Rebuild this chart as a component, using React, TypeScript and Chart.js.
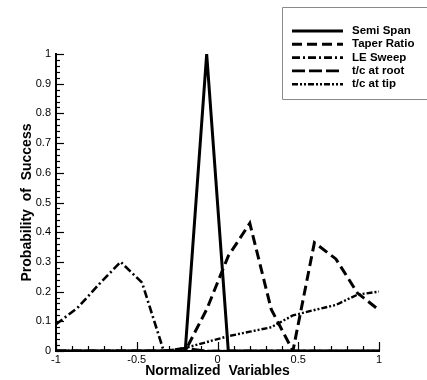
import React, { useEffect, useRef } from "react";
import { Chart, registerables } from "chart.js";

Chart.register(...registerables);

const xValues = [-1, -0.867, -0.733, -0.6, -0.467, -0.333, -0.2, -0.067, 0.067, 0.2, 0.333, 0.467, 0.6, 0.733, 0.867, 1];
const semiSpan = [0, 0, 0, 0, 0, 0, 0, 1, 0, 0, 0, 0, 0, 0, 0, 0];
const taperRatio = [0, 0, 0, 0, 0, 0, 0, 0.14, 0.32, 0.43, 0.14, 0, 0.365, 0.31, 0.195, 0.138];
const leSweep = [0.09, 0.145, 0.225, 0.3, 0.23, 0, 0, 0, 0, 0, 0, 0, 0, 0, 0, 0];
const tcRoot = [0, 0, 0, 0, 0, 0, 0.01, 0, 0, 0, 0, 0, 0, 0, 0, 0];
const tcTip = [0, 0, 0, 0, 0, 0, 0.01, 0.03, 0.05, 0.065, 0.08, 0.12, 0.138, 0.155, 0.19, 0.2];

const seriesLabels = ["Semi Span", "Taper Ratio", "LE Sweep", "t/c at root", "t/c at tip"];
const seriesValues = [semiSpan, taperRatio, leSweep, tcRoot, tcTip];
const seriesDashes: number[][] = [[], [10, 5], [8, 3, 2, 3], [13, 4], [6, 2, 2, 2, 2, 2]];
const seriesWidths = [3, 3, 2.6, 2.6, 2.4];

const FONT = "'Liberation Sans', Arial, Helvetica, sans-serif";

const fmt = (v: any) => String(Number(Number(v).toFixed(2)));

const tickPlugin = {
  id: "innerTicks",
  afterDraw(chart: any) {
    const { ctx, chartArea, scales } = chart;
    const xs = scales.x;
    const ys = scales.y;
    ctx.save();
    ctx.strokeStyle = "#000";
    ctx.lineWidth = 1.2;
    ctx.setLineDash([]);
    for (let i = 0; i <= 50; i++) {
      const v = i * 0.02;
      const py = Math.round(ys.getPixelForValue(v)) + 0.5;
      const len = i % 5 === 0 ? 8 : 4;
      ctx.beginPath();
      ctx.moveTo(chartArea.left, py);
      ctx.lineTo(chartArea.left + len, py);
      ctx.stroke();
    }
    for (let i = 0; i <= 20; i++) {
      const v = -1 + i * 0.1;
      const px = Math.round(xs.getPixelForValue(v)) + 0.5;
      const len = i % 5 === 0 ? 9 : 5;
      ctx.beginPath();
      ctx.moveTo(px, chartArea.bottom);
      ctx.lineTo(px, chartArea.bottom - len);
      ctx.stroke();
    }
    ctx.restore();
  },
};

const legendPlugin = {
  id: "boxLegend",
  afterDraw(chart: any) {
    const { ctx } = chart;
    ctx.save();
    ctx.strokeStyle = "#8a8a8a";
    ctx.lineWidth = 1;
    ctx.setLineDash([]);
    ctx.beginPath();
    ctx.moveTo(427, 7.5);
    ctx.lineTo(282.5, 7.5);
    ctx.lineTo(282.5, 99.5);
    ctx.lineTo(427, 99.5);
    ctx.stroke();
    ctx.font = `bold 11.5px ${FONT}`;
    ctx.fillStyle = "#000";
    ctx.textBaseline = "middle";
    ctx.textAlign = "left";
    seriesLabels.forEach((label, i) => {
      const y = 31 + i * 13.3;
      ctx.strokeStyle = "#000";
      ctx.lineWidth = seriesWidths[i];
      ctx.setLineDash(seriesDashes[i]);
      ctx.beginPath();
      ctx.moveTo(292, y);
      ctx.lineTo(343, y);
      ctx.stroke();
      ctx.fillText(label, 352, y);
    });
    ctx.restore();
  },
};

export default function App() {
  const canvasRef = useRef<HTMLCanvasElement | null>(null);

  useEffect(() => {
    if (!canvasRef.current) return;
    const datasets = seriesLabels.map((label, i) => ({
      label,
      data: xValues.map((x, j) => ({ x, y: seriesValues[i][j] })),
      borderColor: "#000",
      backgroundColor: "#000",
      borderWidth: seriesWidths[i],
      borderDash: seriesDashes[i],
      pointRadius: 0,
      tension: 0,
      fill: false,
    }));
    const chart = new Chart(canvasRef.current, {
      type: "line",
      data: { datasets },
      plugins: [tickPlugin, legendPlugin],
      options: {
        animation: false,
        responsive: false,
        devicePixelRatio: 1,
        layout: { padding: { top: 54, right: 48, left: 0, bottom: 0 } },
        plugins: { legend: { display: false }, tooltip: { enabled: false } },
        scales: {
          x: {
            type: "linear",
            min: -1,
            max: 1,
            grid: { display: false, drawTicks: false },
            border: { display: true, color: "#000", width: 2 },
            ticks: { stepSize: 0.5, color: "#000", padding: 2, maxRotation: 0, callback: fmt, font: { family: FONT, size: 11 } },
            title: {
              display: true,
              text: "Normalized  Variables",
              color: "#000",
              font: { family: FONT, size: 14, weight: "bold" },
              padding: { top: 0, bottom: 0 },
            },
            afterFit: (s: any) => { s.height = 29; },
          },
          y: {
            type: "linear",
            min: 0,
            max: 1,
            grid: { display: false, drawTicks: false },
            border: { display: true, color: "#000", width: 2 },
            ticks: { stepSize: 0.1, color: "#000", padding: 5, callback: fmt, font: { family: FONT, size: 11 } },
            title: {
              display: true,
              text: "Probability  of  Success",
              color: "#000",
              font: { family: FONT, size: 14, weight: "bold" },
              padding: { top: 19, bottom: 0 },
            },
            afterFit: (s: any) => { s.width = 56; },
          },
        },
      },
    });
    return () => chart.destroy();
  }, []);

  return (
    <div style={{ position: "fixed", left: 0, top: 0, width: 427, height: 380, background: "#fff" }}>
      <canvas ref={canvasRef} width={427} height={380} style={{ width: 427, height: 380, display: "block" }} />
    </div>
  );
}
